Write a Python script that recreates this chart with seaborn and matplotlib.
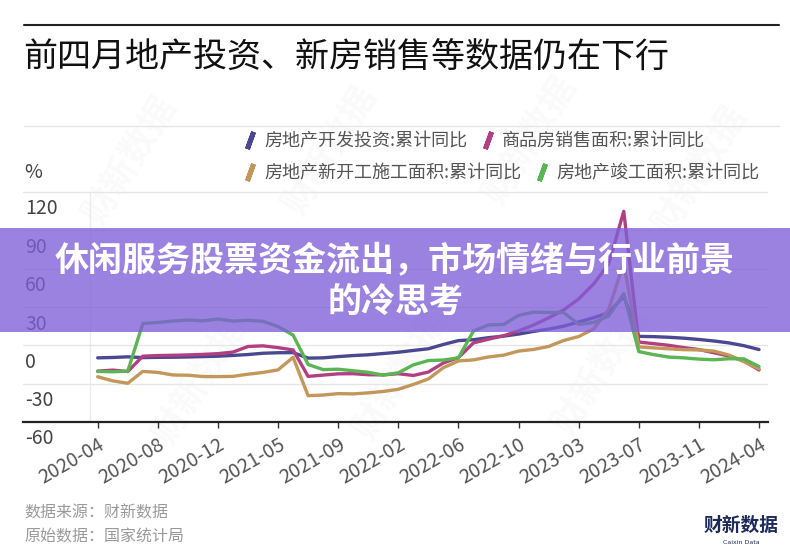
import matplotlib
matplotlib.use("Agg")
import matplotlib.pyplot as plt
import matplotlib.transforms as mtransforms
from matplotlib.lines import Line2D
from matplotlib.markers import MarkerStyle
from matplotlib.patches import Rectangle
import numpy as np
import pandas as pd
import seaborn as sns

# ── Style ─────────────────────────────────────────────────────────────────────
sns.set_theme(style="white")
plt.rcParams["font.family"] = ["Noto Sans CJK SC", "DejaVu Sans"]
plt.rcParams["axes.unicode_minus"] = False

# ── Text ──────────────────────────────────────────────────────────────────────
TITLE = "前四月地产投资、新房销售等数据仍在下行"
BANNER_1 = "休闲服务股票资金流出，市场情绪与行业前景"
BANNER_2 = "的冷思考"
SOURCE_1 = "数据来源：财新数据"
SOURCE_2 = "原始数据：国家统计局"

SERIES = [
    "房地产开发投资:累计同比",
    "商品房销售面积:累计同比",
    "房地产新开工施工面积:累计同比",
    "房地产竣工面积:累计同比",
]
COLORS = ["#4a4890", "#b23f80", "#c3975a", "#5ab552"]

X_LABELS = ["2020-04", "2020-08", "2020-12", "2021-05", "2021-09", "2022-02",
            "2022-06", "2022-10", "2023-03", "2023-07", "2023-11", "2024-04"]
Y_TICKS = [-60, -30, 0, 30, 60, 90, 120]

# ── Data (values as drawn, left to right) ─────────────────────────────────────
INVEST = [-9.8, -9.5, -9.0,
          -9.6, -9.4, -9.3, -9.1, -8.8, -8.5, -7.9, -7.2, -6.2, -5.8, -5.7,
          -10.0, -9.8, -8.8, -8.0, -7.4, -6.4, -5.4, -4.0, -2.7, 0.7, 3.7,
          4.4, 6.0, 7.2, 8.8, 10.9, 12.7, 15.0, 18.3, 21.6, 25.6, 38.3,
          7.0, 6.8, 6.3, 5.6, 4.6, 3.4, 1.9, -0.3, -3.3]
SALES = [-20.2, -19.4, -20.5,
         -8.5, -8.0, -7.8, -7.5, -7.1, -6.5, -5.3, -0.9, -0.4, -1.8, -3.6,
         -24.3, -23.3, -22.3, -22.2, -23.0, -23.1, -22.2, -23.6, -20.9, -13.8, -9.6,
         1.9, 4.8, 7.5, 11.3, 15.9, 21.5, 27.7, 36.3, 48.1, 63.8, 104.9,
         2.6, 1.3, 0.0, -1.8, -3.3, -5.8, -8.4, -12.3, -19.3]
NEW_STARTS = [-24.6, -27.8, -29.7,
              -20.4, -21.2, -23.2, -23.4, -24.4, -24.5, -24.3, -22.6, -21.2, -19.2, -9.4,
              -39.4, -38.9, -37.8, -38.0, -37.2, -36.1, -34.4, -30.6, -26.3, -17.5, -12.2,
              -11.4, -9.1, -7.7, -4.5, -3.2, -0.9, 3.8, 6.9, 12.8, 28.2, 64.3,
              -1.2, -2.0, -2.7, -3.4, -3.6, -4.5, -7.6, -12.8, -18.4]
COMPLETED = [-20.4, -20.7, -20.2,
             17.0, 17.9, 19.0, 19.8, 19.2, 20.5, 19.0, 19.6, 18.8, 14.7, 8.0,
             -15.0, -19.0, -18.7, -19.9, -21.1, -23.3, -21.5, -15.3, -11.9, -11.5, -9.8,
             11.2, 16.0, 16.3, 23.4, 26.0, 25.7, 25.7, 16.4, 17.9, 22.9, 40.4,
             -4.9, -7.3, -9.2, -9.8, -10.8, -11.3, -10.5, -10.6, -16.6]

n = len(INVEST)
df = pd.DataFrame({
    "idx": np.tile(np.arange(n), 4),
    "value": INVEST + SALES + NEW_STARTS + COMPLETED,
    "series": np.repeat(SERIES, n),
})

W, H = 790, 560


def fx(px):
    return px / W


def fy(py):
    return 1 - py / H


fig = plt.figure(figsize=(7.9, 5.6), dpi=100)
fig.patch.set_facecolor("white")

# ── Watermarks ────────────────────────────────────────────────────────────────
for x, y in [(130, 160), (330, 150), (530, 140), (700, 170),
             (200, 380), (400, 375), (600, 370)]:
    fig.text(fx(x), fy(y), "财新数据", rotation=58, fontsize=26, fontweight="bold",
             color="#000000", alpha=0.025, ha="center", va="center", zorder=-1)

# ── Axes ──────────────────────────────────────────────────────────────────────
ax_top, ax_bot, ax_left, ax_right = 185, 422, 23, 768
ax = fig.add_axes([fx(ax_left), fy(ax_bot), (ax_right - ax_left) / W, (ax_bot - ax_top) / H])
ax.patch.set_alpha(0)

x0, dx = 97.7, 15.03
px_per_unit = (ax_bot - 192) / 180
ax.set_xlim((ax_left - x0) / dx, (ax_right - x0) / dx)
ax.set_ylim(-60, 120 + (192 - ax_top) / px_per_unit)

ax.set_yticks(Y_TICKS)
ax.set_yticklabels([])
ax.tick_params(axis="y", length=0)
ax.yaxis.grid(True, color="#e6e6e6", linewidth=1)
ax.xaxis.grid(False)
ax.axvline((90 - x0) / dx, ymax=1 - (192 - ax_top) / (ax_bot - ax_top), color="#ececec", lw=1, zorder=0)

sns.lineplot(data=df, x="idx", y="value", hue="series", hue_order=SERIES,
             palette=COLORS, linewidth=2.4, legend=False, ax=ax, sort=False,
             solid_joinstyle="round", solid_capstyle="round")

for s in ["top", "right", "left"]:
    ax.spines[s].set_visible(False)
ax.spines["bottom"].set_color("#222222")
ax.spines["bottom"].set_linewidth(1.6)

ax.set_xticks(np.arange(0, n, 4))
ax.set_xticklabels(X_LABELS)
ax.tick_params(axis="x", length=4, width=1, color="#333333", pad=5,
               labelsize=14, labelcolor="#555555", bottom=True)
plt.setp(ax.get_xticklabels(), rotation=30, ha="right", rotation_mode="anchor")
ax.set_xlabel("")
ax.set_ylabel("")

# y labels sit just below their gridlines
offset = mtransforms.ScaledTranslation(0, -17 / 100, fig.dpi_scale_trans)
ytrans = mtransforms.blended_transform_factory(ax.transAxes, ax.transData) + offset
for v in Y_TICKS:
    ax.text(2 / (ax_right - ax_left), v, str(v), transform=ytrans, ha="left",
            va="center", fontsize=14, color="#444444")

# ── Header ────────────────────────────────────────────────────────────────────
fig.add_artist(Line2D([fx(24), fx(779)], [fy(25), fy(25)], color="#222222", lw=1.5))
fig.text(fx(23), fy(57), TITLE, fontsize=24.5, fontweight="medium", color="#111111",
         ha="left", va="center")
fig.add_artist(Line2D([fx(24), fx(779)], [fy(126), fy(126)], color="#e6e6e6", lw=1))
fig.text(fx(24), fy(173), "%", fontsize=14, color="#444444", ha="left", va="center")

handles = [Line2D([], [], linestyle="none", color=c,
                  marker=MarkerStyle((2, 2, -20), capstyle="round"),
                  markersize=13, markeredgewidth=3.5) for c in COLORS]
for row, y in enumerate([141, 173]):
    fig.legend(handles[2 * row:2 * row + 2], SERIES[2 * row:2 * row + 2],
               loc="center left", bbox_to_anchor=(fx(243), fy(y)), ncol=2,
               frameon=False, fontsize=13, handlelength=0.8, handletextpad=0.4,
               columnspacing=0.7, borderpad=0, borderaxespad=0, labelcolor="#555555")

# ── Banner overlay ────────────────────────────────────────────────────────────
fig.add_artist(Rectangle((0, fy(332)), 1, 104 / H, transform=fig.transFigure,
                         facecolor="#7f5fd8", edgecolor="none", alpha=0.78, zorder=5))
fig.text(0.5, fy(261), BANNER_1, fontsize=24.5, fontweight="bold", color="white",
         ha="center", va="center", zorder=6)
fig.text(0.5, fy(301), BANNER_2, fontsize=24.5, fontweight="bold", color="white",
         ha="center", va="center", zorder=6)

# ── Footer ────────────────────────────────────────────────────────────────────
fig.text(fx(24), fy(513), SOURCE_1, fontsize=11.5, color="#9a9a9a", ha="left", va="center")
fig.text(fx(24), fy(537), SOURCE_2, fontsize=11.5, color="#9a9a9a", ha="left", va="center")
fig.text(fx(741), fy(525), "财新数据", fontsize=13.5, fontweight="bold", color="#1c2b5a",
         ha="center", va="center")
fig.text(fx(741), fy(542), "Caixin Data", fontsize=4.5, color="#1c2b5a",
         ha="center", va="center", family="DejaVu Sans")

fig.savefig("out.png", dpi=100)
